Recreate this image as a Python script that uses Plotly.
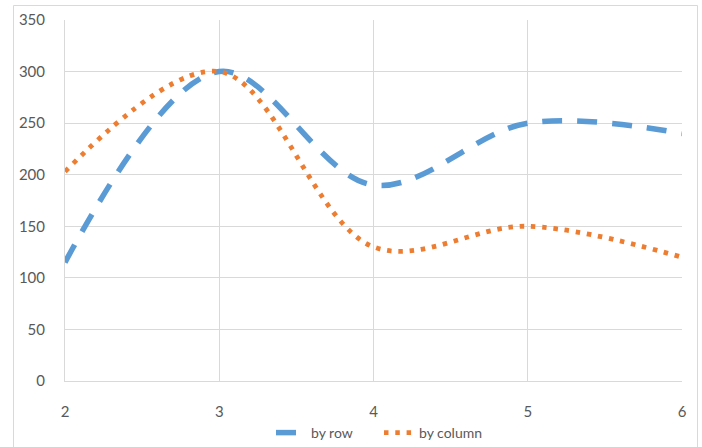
import plotly.graph_objects as go

x_vals = [2, 3, 4, 5, 6]
by_row = [115, 300, 190, 250, 240]
by_column = [203, 300, 130, 150, 120]
y_ticks = [0, 50, 100, 150, 200, 250, 300, 350]

fig = go.Figure()
fig.add_trace(go.Scatter(
    x=x_vals, y=by_row, name="by row", mode="lines",
    line=dict(color="#5B9BD5", width=5.5, shape="spline", smoothing=1.0, dash="20px,15px"),
))
fig.add_trace(go.Scatter(
    x=x_vals, y=by_column, name="by column", mode="lines",
    line=dict(color="#ED7D31", width=4.8, shape="spline", smoothing=1.0, dash="4.5px,6.8px"),
))

grid = "#D9D9D9"
L, R, T, B = 65, 20, 20, 66
W, H = 702, 447
pw, ph = W - L - R, H - T - B
fig.update_layout(
    width=W, height=H,
    margin=dict(l=L, r=R, t=T, b=B, autoexpand=False),
    paper_bgcolor="white", plot_bgcolor="white",
    font=dict(family="Lato, Liberation Sans, Arial, sans-serif", size=15, color="#595959"),
    showlegend=True,
    legend=dict(orientation="h", x=(379 - L) / pw, xanchor="center", y=-(433 - 381) / ph, yanchor="middle",
                font=dict(size=14, color="#595959"), itemwidth=30,
                entrywidth=63, entrywidthmode="pixels"),
    xaxis=dict(range=[2, 6], tickvals=x_vals, showgrid=True, gridcolor=grid, gridwidth=1,
               zeroline=False, showline=True, linecolor=grid, linewidth=1,
               ticks="", ticklabelstandoff=17, fixedrange=True),
    yaxis=dict(range=[0, 350], tickvals=y_ticks, showgrid=True, gridcolor=grid, gridwidth=1,
               zeroline=False, showline=True, linecolor=grid, linewidth=1,
               ticks="", ticklabelstandoff=16, fixedrange=True),
    shapes=[dict(type="rect", xref="paper", yref="paper",
                 x0=(13.5 - L) / pw, x1=(697.5 - L) / pw,
                 y0=-0.3, y1=(381 - 5.5) / ph,
                 line=dict(color="#D9D9D9", width=1), fillcolor="rgba(0,0,0,0)", layer="below")],
)

fig.write_html("out.html", config={"displayModeBar": False},
               post_script="document.body.style.margin='0';document.body.style.overflow='hidden';")
